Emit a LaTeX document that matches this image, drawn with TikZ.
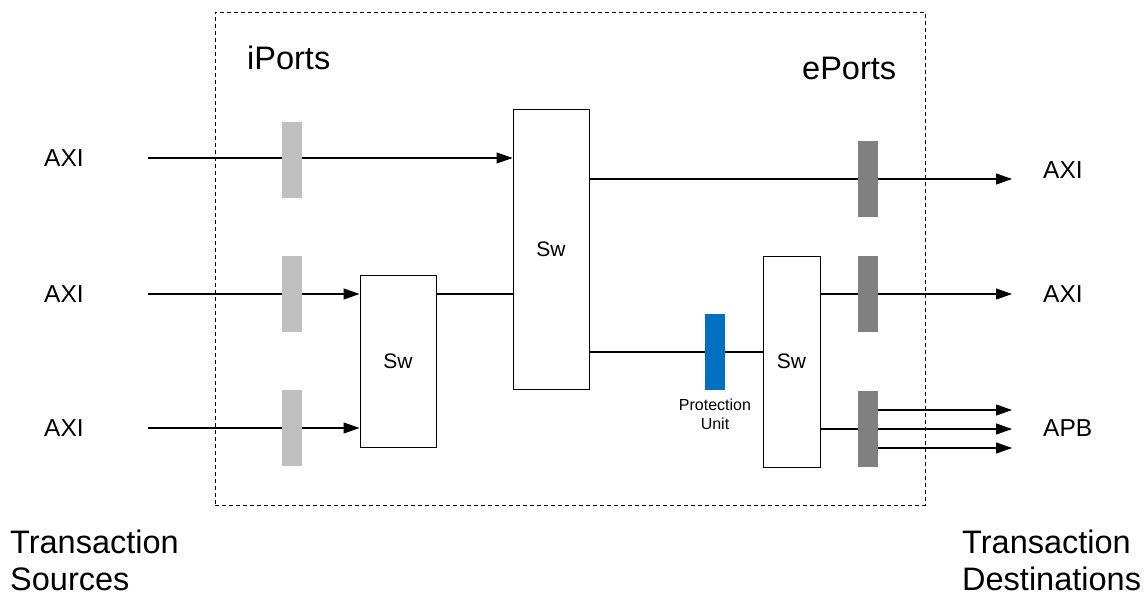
\documentclass[tikz,border=0pt]{standalone}
\usepackage{fontspec}
\setmainfont{Liberation Sans}
\usetikzlibrary{arrows.meta,positioning,backgrounds}
\definecolor{NocInPort}{RGB}{192,192,192}
\definecolor{NocOutPort}{RGB}{128,128,128}
\definecolor{NocBlue}{RGB}{0,112,192}
\tikzset{
  noc/sw/.style={
    draw=black,
    line width=1pt,
    fill=white,
    inner sep=0pt,
    minimum width=76pt,
    font=\fontsize{21}{25}\selectfont
  },
  noc/inport/.style={fill=NocInPort, inner sep=0pt, minimum width=20pt, minimum height=76pt},
  noc/outport/.style={fill=NocOutPort, inner sep=0pt, minimum width=20pt, minimum height=76pt},
  noc/prot/.style={fill=NocBlue, inner sep=0pt, minimum width=20pt, minimum height=76pt},
  noc/frame/.style={draw=black, line width=0.8pt, dash pattern=on 4pt off 3pt, inner sep=0pt,
    minimum width=710pt, minimum height=493pt},
  noc/arrow/.style={-{Triangle[length=16pt,width=11pt]}, line width=1.1pt},
  noc/line/.style={line width=1.1pt},
  noc/bus/.style={font=\fontsize{24.5}{28}\selectfont, inner sep=0pt},
  noc/title/.style={font=\fontsize{32.5}{37}\selectfont, inner sep=0pt, align=left},
  noc/tiny/.style={font=\fontsize{16}{19}\selectfont, inner sep=0pt, align=center}
}
\begin{document}
\begin{tikzpicture}[x=1pt,y=-1pt]
  \useasboundingbox (0,0) rectangle (1145,596);
  \node[noc/frame] (chip) at (570,258.5) {};
  \node[noc/title,anchor=base west] (ilbl) at (247,70) {iPorts};
  \node[noc/title,anchor=base west] (elbl) at (802,80) {ePorts};

  % switches
  \node[noc/sw,minimum height=279pt] (swbig) at (551,249.5) {Sw};
  \node[noc/sw,minimum height=172pt] (swin) at (398,361) {Sw};
  \node[noc/sw,minimum width=57pt,minimum height=211pt] (swout) at (791.5,361.5) {Sw};

  % ports
  \node[noc/inport] (ip1) at (292,160) {};
  \node[noc/inport] (ip2) at (292,294) {};
  \node[noc/inport] (ip3) at (292,428) {};
  \node[noc/outport] (ep1) at (868,179) {};
  \node[noc/outport] (ep2) at (868,294) {};
  \node[noc/outport] (ep3) at (868,429) {};
  \node[noc/prot] (pu) at (715,352) {};
  \node[noc/tiny,anchor=north] (pulbl) at (715,399) {Protection\\Unit};

  % bus labels
  \node[noc/bus,anchor=west] (src1) at (44,158) {AXI};
  \node[noc/bus,anchor=west] (src2) at (44,294) {AXI};
  \node[noc/bus,anchor=west] (src3) at (44,428) {AXI};
  \node[noc/bus,anchor=west] (dst1) at (1043,170) {AXI};
  \node[noc/bus,anchor=west] (dst2) at (1043,294) {AXI};
  \node[noc/bus,anchor=west] (dst3) at (1043,428) {APB};
  \coordinate (in1) at (148,158);
  \coordinate (in2) at (148,294);
  \coordinate (in3) at (148,428);
  \coordinate (out1) at (1012,179);
  \coordinate (out2) at (1012,294);
  \coordinate (outa) at (1012,410);
  \coordinate (outb) at (1012,429);
  \coordinate (outc) at (1012,448);

  \node[noc/title,anchor=north west] (srclbl) at (10,530) {Transaction\\Sources};
  \node[noc/title,anchor=north west] (dstlbl) at (962,530) {Transaction\\Destinations};

  \begin{scope}[on background layer]
    \draw[noc/arrow] (in1) -- (in1 -| swbig.west);
    \draw[noc/arrow] (in2) -- (in2 -| swin.west);
    \draw[noc/arrow] (in3) -- (in3 -| swin.west);
    \draw[noc/line] (swin.east |- in2) -- (swbig.west |- in2);
    \draw[noc/arrow] (swbig.east |- out1) -- (out1);
    \draw[noc/line] (swbig.east |- pu) -- (swout.west |- pu);
    \draw[noc/arrow] (swout.east |- out2) -- (out2);
    \draw[noc/line] (swout.east |- ep3) -- (ep3);
    \foreach \o in {outa,outb,outc}
      \draw[noc/arrow] (ep3.east |- \o) -- (\o);
  \end{scope}
\end{tikzpicture}
\end{document}
